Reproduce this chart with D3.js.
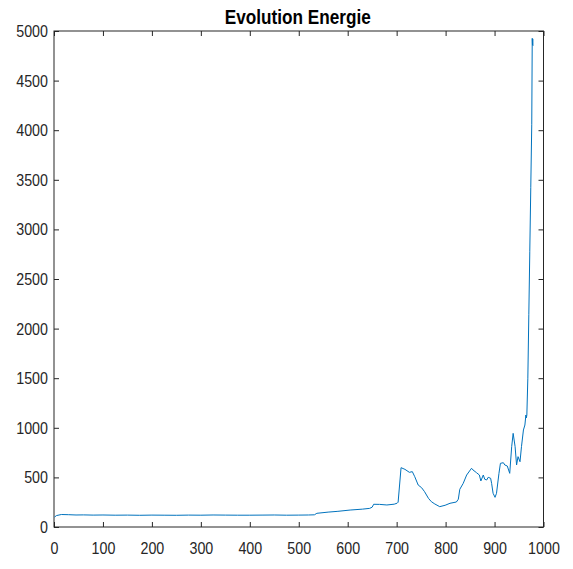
<!DOCTYPE html>
<html>
<head>
<meta charset="utf-8">
<script src="https://cdn.jsdelivr.net/npm/d3@7"></script>
<style>
  body { margin: 0; background: #fff; }
  svg { display: block; font-family: "Liberation Sans", Arial, sans-serif; }
</style>
</head>
<body>
<svg id="chart" width="573" height="569"></svg>
<script>
// iteration index and energy
const iterations = [1, 5, 15, 30, 45, 60, 80, 100, 125, 150, 175, 200, 225, 250, 275, 300, 325, 350, 375, 400, 425, 450, 475, 500, 520, 532,
  537, 560, 580, 605, 630, 645, 650, 653, 665, 680, 695, 701, 703, 709, 717, 726, 732, 737, 744, 751, 757, 765, 771, 778, 788, 799, 809,
  822, 826, 829, 836, 843, 853, 856, 863, 869, 872, 877, 880, 884, 887, 892, 894, 897, 901, 904, 909, 912, 918, 921, 926, 931, 935, 938,
  942, 945, 948, 952, 955, 959, 962, 964, 965, 966, 968, 970, 972, 974, 976, 977, 977.5, 978, 978.5];
const energy = [100, 115, 126, 124, 121, 122, 120, 121, 119, 120, 118, 120, 119, 118, 120, 119, 121, 120, 119, 119, 120, 121, 119, 120, 121, 123,
  138, 150, 158, 171, 180, 188, 200, 229, 228, 222, 230, 240, 250, 598, 581, 551, 558, 507, 423, 396, 356, 289, 255, 232, 205, 219, 239,
  252, 280, 380, 440, 524, 592, 575, 548, 524, 464, 524, 481, 474, 501, 491, 440, 340, 299, 340, 541, 642, 648, 625, 615, 541, 810, 944,
  810, 625, 709, 658, 810, 978, 1028, 1129, 1100, 1129, 1500, 2140, 2780, 3420, 4060, 4926, 4860, 4920, 4850];
const xTicks = [0, 100, 200, 300, 400, 500, 600, 700, 800, 900, 1000];
const yTicks = [0, 500, 1000, 1500, 2000, 2500, 3000, 3500, 4000, 4500, 5000];

const svg = d3.select('#chart');
const plotLeft = 54, plotRight = 543.5, plotTop = 31, plotBottom = 527;
const axisColor = '#262626';
const squeeze = 0.84; // the original font is narrower than Liberation Sans

const x = d3.scaleLinear().domain([0, 1000]).range([plotLeft, plotRight]);
const y = d3.scaleLinear().domain([0, 5000]).range([plotBottom, plotTop]);

// tick marks point inward on all four sides
svg.append('g')
  .attr('transform', `translate(0,${plotBottom})`)
  .call(d3.axisBottom(x).tickValues(xTicks).tickFormat(d3.format('d')).tickSizeInner(-5).tickSizeOuter(0).tickPadding(15))
  .call(g => g.select('.domain').remove())
  .call(g => g.selectAll('.tick text').attr('transform', `scale(${squeeze},1)`));
svg.append('g')
  .attr('transform', `translate(0,${plotTop})`)
  .call(d3.axisTop(x).tickValues(xTicks).tickSizeInner(-5).tickSizeOuter(0).tickFormat(''))
  .call(g => g.select('.domain').remove());
svg.append('g')
  .attr('transform', `translate(${plotLeft},0)`)
  .call(d3.axisLeft(y).tickValues(yTicks).tickFormat(d3.format('d')).tickSizeInner(-5).tickSizeOuter(0))
  .call(g => g.select('.domain').remove())
  .call(g => g.selectAll('.tick text').attr('x', -6 / squeeze).attr('transform', `scale(${squeeze},1)`));
svg.append('g')
  .attr('transform', `translate(${plotRight},0)`)
  .call(d3.axisRight(y).tickValues(yTicks).tickSizeInner(-5).tickSizeOuter(0).tickFormat(''))
  .call(g => g.select('.domain').remove());

svg.selectAll('.tick line').attr('stroke', axisColor);
svg.selectAll('.tick text')
  .attr('fill', axisColor)
  .style('font-size', '17px')
  .style('font-family', '"Liberation Sans", Arial, sans-serif');

svg.append('rect')
  .attr('x', plotLeft).attr('y', plotTop)
  .attr('width', plotRight - plotLeft).attr('height', plotBottom - plotTop)
  .attr('fill', 'none').attr('stroke', axisColor).attr('stroke-width', 1);

const line = d3.line()
  .x((d, i) => x(iterations[i]))
  .y(d => y(d));

svg.append('path')
  .datum(energy)
  .attr('fill', 'none')
  .attr('stroke', '#0072BD')
  .attr('stroke-width', 1)
  .attr('d', line);

svg.append('text')
  .attr('transform', `translate(${(plotLeft + plotRight) / 2 - 1},24) scale(0.86,1)`)
  .attr('text-anchor', 'middle')
  .style('font-size', '20px')
  .style('font-weight', 'bold')
  .attr('fill', '#000')
  .text('Evolution Energie');
</script>
</body>
</html>
